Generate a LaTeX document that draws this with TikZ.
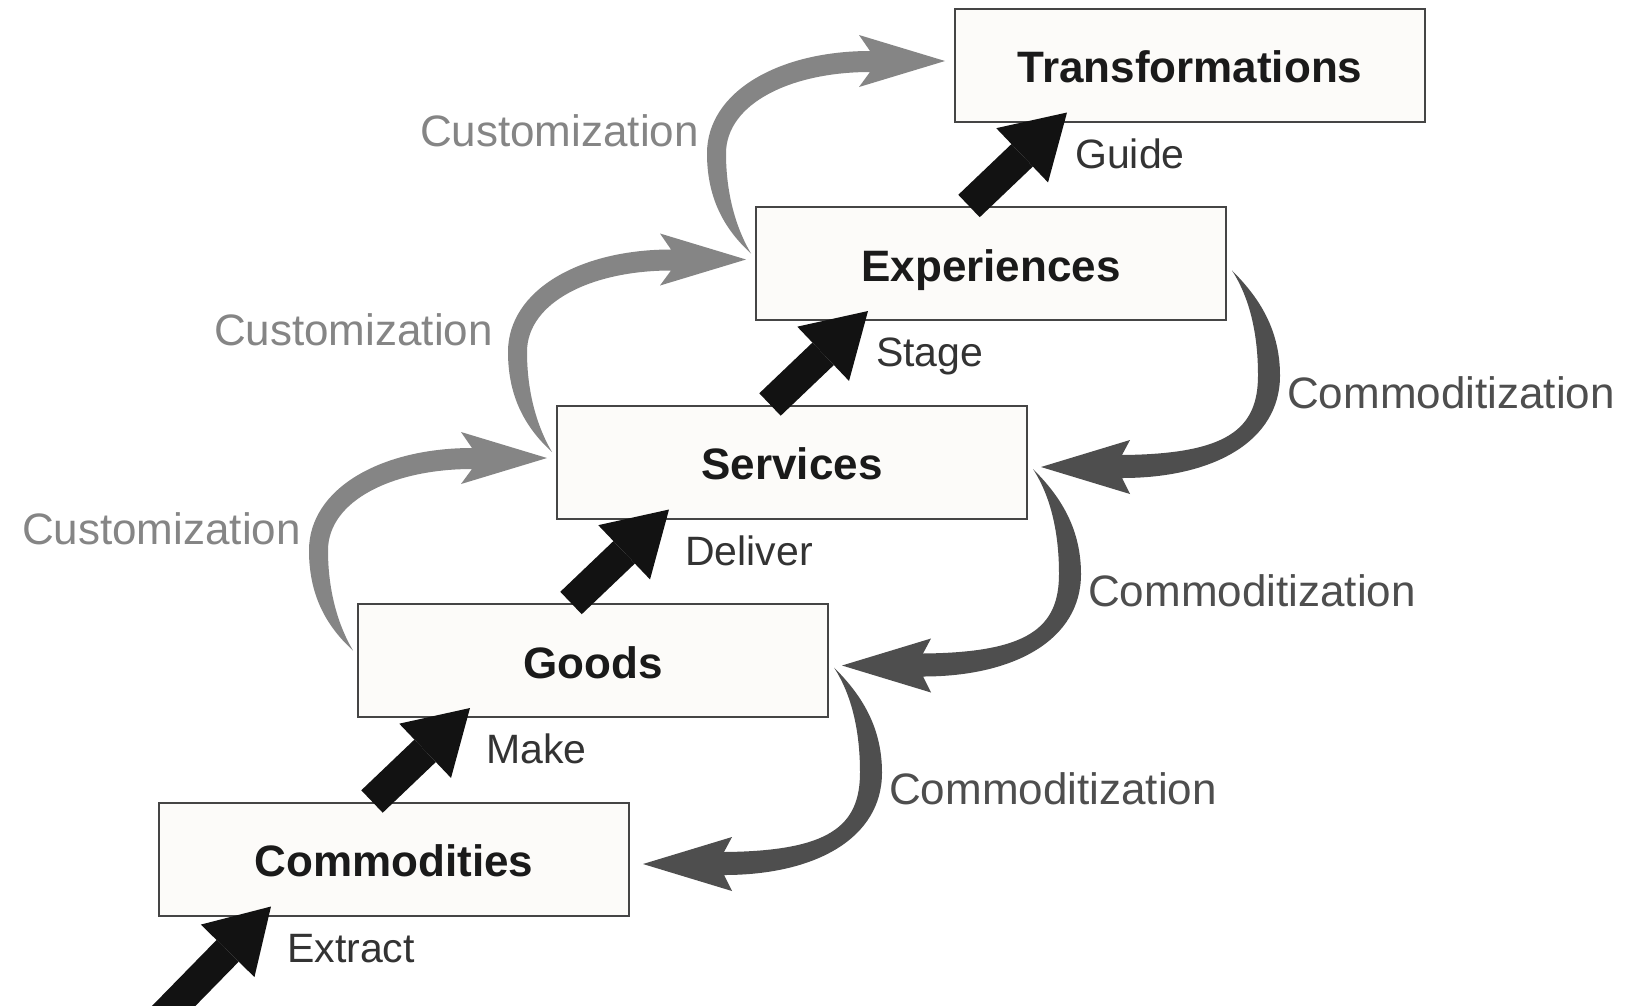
\documentclass[tikz,border=0pt]{standalone}
\usepackage{fontspec}
\setmainfont{Liberation Sans}
\usetikzlibrary{arrows.meta,calc}
\definecolor{custgray}{HTML}{858585}
\definecolor{commgray}{HTML}{4E4E4E}
\definecolor{labgray}{HTML}{333333}
\definecolor{boxline}{HTML}{454545}
\definecolor{boxfill}{HTML}{FCFBF9}
\definecolor{boxtext}{HTML}{1A1A1A}
\tikzset{
  stagebox/.style={draw=boxline, line width=2pt, fill=boxfill, minimum width=470pt,
    minimum height=113pt, inner sep=0pt, text height=35.5pt, text depth=0pt,
    font=\fontsize{44}{50}\selectfont\bfseries, text=boxtext},
  verblabel/.style={anchor=west, inner sep=0pt, text height=29.5pt, text depth=0pt,
    font=\fontsize{41}{48}\selectfont, text=labgray},
  custlabel/.style={anchor=east, inner sep=0pt, text height=31.5pt, text depth=0pt,
    font=\fontsize{44}{50}\selectfont, text=custgray},
  commlabel/.style={anchor=west, inner sep=0pt, text height=31.5pt, text depth=0pt,
    font=\fontsize{44}{50}\selectfont, text=commgray},
  progress/.style={draw=black!93, line width=31pt,
    -{Triangle[length=62pt,width=75pt,line width=0pt]}},
}
% customization arrow: from lower box (#1) up-left-around to upper box (#2)
\newcommand\custarrow[2]{%
  \coordinate (L) at (#1.west);
  \coordinate (U) at (#2.west);
  \fill[custgray] ($(L)+(-4,-10)$)
    .. controls ($(L)+(-28,-32)$) and ($(L)+(-48,-62)$) .. ($(L)+(-48,-110)$)
    .. controls ($(L)+(-48,-172)$) and ($(L)+(24,-212.5)$) .. ($(U)+(-84,-14)$)
    -- ($(U)+(-95,-30)$) -- ($(U)+(-9,-4)$) -- ($(U)+(-95,22)$) -- ($(U)+(-84,7)$)
    .. controls ($(L)+(36,-191.5)$) and ($(L)+(-29,-160)$) .. ($(L)+(-29,-110)$)
    .. controls ($(L)+(-29,-64)$) and ($(L)+(-16,-30)$) .. ($(L)+(-4,-10)$) -- cycle;
}
% commoditization arrow: from upper box (#1) around the right to lower box (#2)
\newcommand\commarrow[2]{%
  \coordinate (E) at (#1.east);
  \coordinate (R) at (#2.east);
  \fill[commgray] ($(E)+(5,7)$)
    .. controls ($(E)+(28,30)$) and ($(E)+(53,62)$) .. ($(E)+(53,112)$)
    .. controls ($(E)+(53,178)$) and ($(E)+(-14,214.5)$) .. ($(R)+(94,16)$)
    -- ($(R)+(102,32)$) -- ($(R)+(13,5)$) -- ($(R)+(102,-22)$) -- ($(R)+(94,-7)$)
    .. controls ($(E)+(0,190.5)$) and ($(E)+(31,166)$) .. ($(E)+(31,112)$)
    .. controls ($(E)+(31,64)$) and ($(E)+(20,30)$) .. ($(E)+(5,7)$) -- cycle;
}
\begin{document}
\begin{tikzpicture}[x=1pt,y=-1pt]
\useasboundingbox (0,0) rectangle (1632,1005);
\fill[white] (0,0) rectangle (1632,1005);

% stage boxes (placed first so their anchors exist)
\node[stagebox] (com) at (394,859) {Commodities};
\node[stagebox] (goo) at (593,660.5) {Goods};
\node[stagebox] (ser) at (792,462) {Services};
\node[stagebox] (exp) at (991,263.5) {Experiences};
\node[stagebox] (tra) at (1190,65) {Transformations};

% gray curved arrows
\custarrow{goo}{ser}
\custarrow{ser}{exp}
\custarrow{exp}{tra}
\commarrow{exp}{ser}
\commarrow{ser}{goo}
\commarrow{goo}{com}

% boxes again, on top of the curved arrows' ends
\node[stagebox] at (com) {Commodities};
\node[stagebox] at (goo) {Goods};
\node[stagebox] at (ser) {Services};
\node[stagebox] at (exp) {Experiences};
\node[stagebox] at (tra) {Transformations};

% black progression arrows
\coordinate (start) at (157,1023);
\draw[progress] (start) -- ($(com.south west)+(113,-10)$);
\draw[progress] ($(com.north west)+(214,0)$) -- ($(goo.south west)+(113,-10)$);
\draw[progress] ($(goo.north west)+(214,0)$) -- ($(ser.south west)+(113,-10)$);
\draw[progress] ($(ser.north west)+(214,0)$) -- ($(exp.south west)+(113,-10)$);
\draw[progress] ($(exp.north west)+(214,0)$) -- ($(tra.south west)+(113,-10)$);

% verb labels
\node[verblabel] (l1) at ($(com.south west)+(129,31)$) {Extract};
\node[verblabel] (l2) at ($(goo.south west)+(129,31)$) {Make};
\node[verblabel] (l3) at ($(ser.south west)+(129,31)$) {Deliver};
\node[verblabel] (l4) at ($(exp.south west)+(121,31)$) {Stage};
\node[verblabel] (l5) at ($(tra.south west)+(121,31)$) {Guide};

% customization labels
\node[custlabel] (c1) at ($(goo.west)+(-56,-132)$) {Customization};
\node[custlabel] (c2) at ($(ser.west)+(-63,-132)$) {Customization};
\node[custlabel] (c3) at ($(exp.west)+(-56,-133)$) {Customization};

% commoditization labels
\node[commlabel] (m1) at ($(exp.east)+(60,129)$) {Commoditization};
\node[commlabel] (m2) at ($(ser.east)+(60,129)$) {Commoditization};
\node[commlabel] (m3) at ($(goo.east)+(60,128)$) {Commoditization};
\end{tikzpicture}
\end{document}
